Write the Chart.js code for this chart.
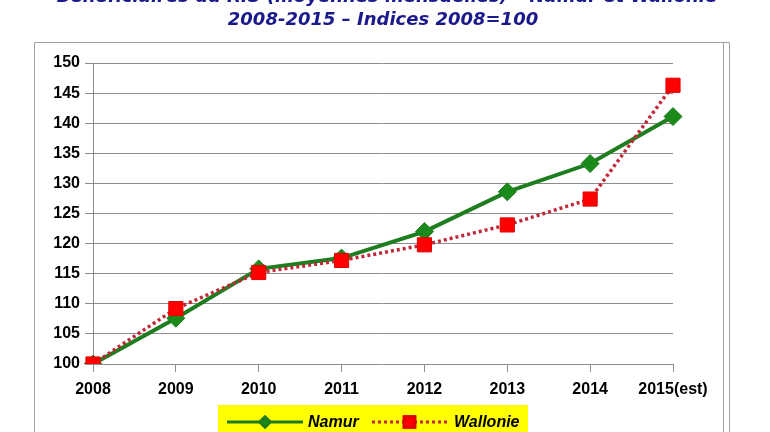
<!DOCTYPE html>
<html>
<head>
<meta charset="utf-8">
<script src="https://cdn.jsdelivr.net/npm/chart.js@4.4.1/dist/chart.umd.min.js"></script>
<style>
  html, body { margin: 0; padding: 0; background: #fff; }
  #wrap { width: 770px; height: 432px; position: relative; }
</style>
</head>
<body>
<div id="wrap"><canvas id="chart" width="770" height="432"></canvas></div>
<script>
// données
const years = ['2008', '2009', '2010', '2011', '2012', '2013', '2014', '2015(est)'];
const namur = [100, 107.6, 115.8, 117.6, 122.0, 128.6, 133.3, 141.1];
const wallonie = [100, 109.2, 115.2, 117.2, 119.8, 123.1, 127.4, 146.3];
const titleLines = [
  'Bénéficiaires du RIS (moyennes mensuelles) – Namur et Wallonie',
  '2008-2015 – Indices 2008=100'
];

const GREEN = '#1e7d1e';
const RED = '#ff0000';
const DOTS = '#c0283a';
const GRID = '#8c8c8c';

// cadre, titre et légende dessinés à la main
const decor = {
  id: 'decor',
  beforeDraw(chart) {
    const ctx = chart.ctx;
    ctx.save();
    ctx.strokeStyle = '#a0a0a0';
    ctx.lineWidth = 1;
    ctx.beginPath();
    ctx.moveTo(34.5, 440);
    ctx.lineTo(34.5, 42.5);
    ctx.lineTo(729.5, 42.5);
    ctx.lineTo(729.5, 440);
    ctx.moveTo(723.5, 42.5);
    ctx.lineTo(723.5, 440);
    ctx.stroke();

    ctx.fillStyle = '#1a1a8c';
    ctx.textAlign = 'center';
    ctx.textBaseline = 'alphabetic';
    ctx.font = 'italic bold 18px "DejaVu Sans"';
    ctx.fillText(titleLines[0], 387, 2);
    ctx.fillText(titleLines[1], 383, 25);
    ctx.restore();
  },
  afterDraw(chart) {
    const ctx = chart.ctx;
    ctx.save();
    ctx.fillStyle = '#ffff00';
    ctx.fillRect(218, 405, 310, 30);

    const y = 422;
    const items = [
      { ds: chart.data.datasets[0], x0: 227, x1: 303, tx: 308, r: 5 },
      { ds: chart.data.datasets[1], x0: 372, x1: 447, tx: 454, r: 7.5 }
    ];
    items.forEach(it => {
      ctx.strokeStyle = it.ds.borderColor;
      ctx.lineWidth = 3;
      ctx.setLineDash(it.ds.borderDash || []);
      ctx.beginPath();
      ctx.moveTo(it.x0, y);
      ctx.lineTo(it.x1, y);
      ctx.stroke();
      ctx.setLineDash([]);
      Chart.helpers.drawPoint(ctx, {
        pointStyle: it.ds.pointStyle,
        radius: it.r,
        borderWidth: 1
      }, (it.x0 + it.x1) / 2, y);
      ctx.fillStyle = it.ds.pointBackgroundColor;
      ctx.strokeStyle = it.ds.pointBorderColor;
      ctx.fill();
      ctx.stroke();
      ctx.fillStyle = '#000';
      ctx.font = 'italic bold 16px "Liberation Sans"';
      ctx.textAlign = 'left';
      ctx.textBaseline = 'middle';
      ctx.fillText(it.ds.label, it.tx, y + 1);
    });
    ctx.restore();
  }
};

new Chart(document.getElementById('chart'), {
  type: 'line',
  data: {
    labels: years,
    datasets: [
      {
        label: 'Namur',
        data: namur,
        borderColor: GREEN,
        borderWidth: 4,
        pointStyle: 'rectRot',
        pointRadius: 9,
        pointHoverRadius: 9,
        pointBackgroundColor: '#1a8a1a',
        pointBorderColor: GREEN,
        pointBorderWidth: 1,
        tension: 0,
        order: 1
      },
      {
        label: 'Wallonie',
        data: wallonie,
        borderColor: DOTS,
        borderWidth: 3.5,
        borderDash: [3, 3],
        pointStyle: 'rect',
        pointRadius: 10,
        pointHoverRadius: 10,
        pointBackgroundColor: RED,
        pointBorderColor: '#e00000',
        pointBorderWidth: 1,
        tension: 0,
        order: 0
      }
    ]
  },
  options: {
    responsive: false,
    animation: false,
    layout: { padding: { left: 0, right: 97, top: 63, bottom: 28 } },
    plugins: {
      legend: { display: false },
      title: { display: false },
      tooltip: { enabled: false }
    },
    scales: {
      x: {
        offset: false,
        afterFit(scale) { scale.height = 40; },
        grid: {
          drawOnChartArea: false,
          drawTicks: true,
          tickLength: 8,
          color: GRID
        },
        border: { display: false },
        ticks: {
          color: '#000',
          padding: 8,
          maxRotation: 0,
          font: { family: 'Liberation Sans', size: 16, weight: 'bold' }
        }
      },
      y: {
        min: 100,
        max: 150,
        afterFit(scale) { scale.width = 93; },
        grid: {
          color: GRID,
          lineWidth: 1,
          tickLength: 8
        },
        border: { display: true, color: GRID },
        ticks: {
          stepSize: 5,
          color: '#000',
          padding: 5,
          font: { family: 'Liberation Sans', size: 16, weight: 'bold' }
        }
      }
    }
  },
  plugins: [decor]
});
</script>
</body>
</html>
